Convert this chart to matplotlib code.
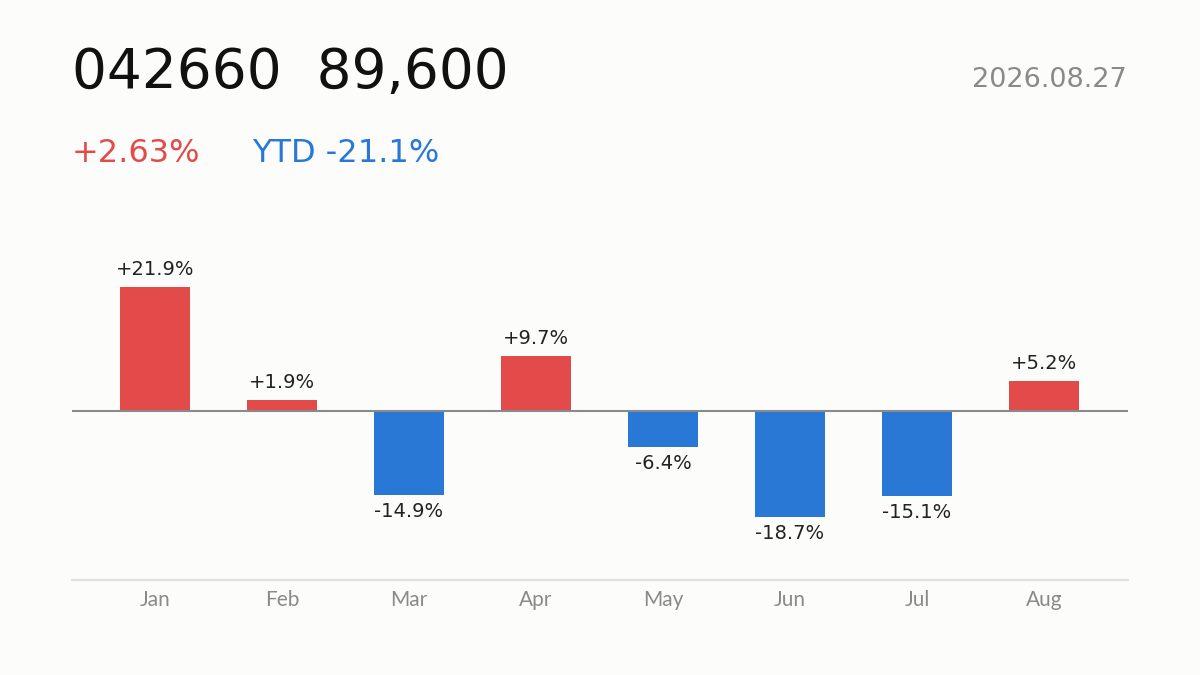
import matplotlib.pyplot as plt
import numpy as np

plt.rcParams['font.family'] = ['DejaVu Sans']

months = ['Jan', 'Feb', 'Mar', 'Apr', 'May', 'Jun', 'Jul', 'Aug']
returns = [21.9, 1.9, -14.9, 9.7, -6.4, -18.7, -15.1, 5.2]
ticker = '042660'
price = '89,600'
day_change = '+2.63%'
ytd = 'YTD -21.1%'
date = '2026.08.27'

RED = '#E34A4A'
BLUE = '#2A78D6'
BG = '#FCFCFA'

fig = plt.figure(figsize=(12, 6.75), dpi=100, facecolor=BG)
ax = fig.add_axes([0.06, 1 - 580 / 675, 0.88, 339 / 675])
ax.set_facecolor(BG)

x = np.arange(len(months))
colors = [RED if v >= 0 else BLUE for v in returns]
ax.bar(x, returns, width=0.55, color=colors, zorder=2)
ax.axhline(0, color='#8a8a8a', lw=1.5, zorder=3)

for xi, v in zip(x, returns):
    if v >= 0:
        ax.annotate(f'+{v:.1f}%', (xi, v), xytext=(0, 6), textcoords='offset points',
                    ha='center', va='bottom', fontsize=14, color='#222222')
    else:
        ax.annotate(f'{v:.1f}%', (xi, v), xytext=(0, -5), textcoords='offset points',
                    ha='center', va='top', fontsize=14, color='#222222')

ax.set_xlim(-0.654, 7.661)
ax.set_ylim(-29.9, 30)
ax.set_xticks(x)
ax.set_xticklabels(months, fontsize=15, color='#8a8a8a', fontweight='normal',
                   family=['Lato', 'DejaVu Sans'])
ax.tick_params(axis='x', length=0, pad=7)
ax.set_yticks([])
for s in ['top', 'left', 'right']:
    ax.spines[s].set_visible(False)
ax.spines['bottom'].set_color('#e0e0dc')
ax.spines['bottom'].set_linewidth(1.5)

fig.text(72 / 1200, 1 - 88 / 675, f'{ticker}  {price}', fontsize=39.5, color='#111111',
         ha='left', va='baseline')
fig.text(1127 / 1200, 1 - 87 / 675, date, fontsize=19.5, color='#8a8a8a',
         ha='right', va='baseline')
fig.text(72 / 1200, 1 - 162 / 675, day_change, fontsize=23, color=RED,
         ha='left', va='baseline')
fig.text(252 / 1200, 1 - 162 / 675, ytd, fontsize=23, color=BLUE,
         ha='left', va='baseline')

fig.savefig('out.png', dpi=100, facecolor=BG)
